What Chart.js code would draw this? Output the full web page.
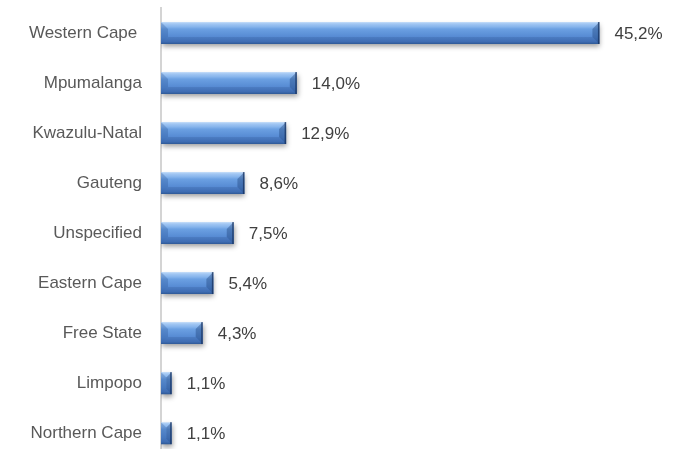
<!DOCTYPE html>
<html>
<head>
<meta charset="utf-8">
<script src="https://cdn.jsdelivr.net/npm/chart.js@4.4.1/dist/chart.umd.min.js"></script>
<style>
  html, body { margin: 0; padding: 0; background: #ffffff; overflow: hidden; }
  #wrap { width: 683px; height: 449px; overflow: hidden; }
</style>
</head>
<body>
<div id="wrap"><canvas id="chart" width="683" height="459"></canvas></div>
<script>
// Share of respondents by province (%)
const provinces = ["Western Cape ", "Mpumalanga", "Kwazulu-Natal", "Gauteng", "Unspecified",
                   "Eastern Cape", "Free State", "Limpopo", "Northern Cape"];
const shares = [45.2, 14.0, 12.9, 8.6, 7.5, 5.4, 4.3, 1.1, 1.1];
const axisMax = 50;
const BAR_FRACTION = 0.44;

const FONT = "'Liberation Sans', Arial, sans-serif";

// Vertical gradient across one bar, giving the rounded bevel look.
// The bar's band is taken from the category scale, which is laid out
// before the bar options are resolved.
function barFill(context) {
  const chart = context.chart;
  const ys = chart.scales.y;
  if (!ys || !chart.chartArea || context.dataIndex === undefined) return '#5589d2';
  const center = ys.getPixelForValue(context.dataIndex);
  const half = (ys.height / chart.data.labels.length) * BAR_FRACTION / 2;
  const g = chart.ctx.createLinearGradient(0, center - half, 0, center + half);
  g.addColorStop(0.00, '#c6def9');
  g.addColorStop(0.08, '#a2c7f3');
  g.addColorStop(0.22, '#86b4ec');
  g.addColorStop(0.32, '#6ba0e2');
  g.addColorStop(0.70, '#5589d2');
  g.addColorStop(0.90, '#4677c0');
  g.addColorStop(1.00, '#33609e');
  return g;
}

// Soft drop shadow under the bars
const barShadow = {
  id: 'barShadow',
  beforeDatasetsDraw(chart) {
    const ctx = chart.ctx;
    ctx.save();
    ctx.shadowColor = 'rgba(0,0,0,0.38)';
    ctx.shadowBlur = 5;
    ctx.shadowOffsetX = 1;
    ctx.shadowOffsetY = 3;
  },
  afterDatasetsDraw(chart) {
    chart.ctx.restore();
  }
};

// Bevel facets at the bar ends plus the value labels
const bevelAndLabels = {
  id: 'bevelAndLabels',
  afterDatasetsDraw(chart) {
    const ctx = chart.ctx;
    const meta = chart.getDatasetMeta(0);
    const data = chart.data.datasets[0].data;
    ctx.save();
    meta.data.forEach((bar, i) => {
      const p = bar.getProps(['x', 'y', 'base', 'height'], true);
      const left = Math.min(p.base, p.x), right = Math.max(p.base, p.x);
      const top = p.y - p.height / 2, bottom = p.y + p.height / 2;
      const b = Math.min(7, (right - left) / 2, p.height / 2);
      // bottom facet
      ctx.fillStyle = 'rgba(20,50,100,0.15)';
      ctx.beginPath();
      ctx.moveTo(left, bottom); ctx.lineTo(right, bottom);
      ctx.lineTo(right - b, bottom - b); ctx.lineTo(left + b, bottom - b);
      ctx.closePath(); ctx.fill();
      // left facet
      ctx.fillStyle = 'rgba(35,80,145,0.28)';
      ctx.beginPath();
      ctx.moveTo(left, top); ctx.lineTo(left + b, top + b);
      ctx.lineTo(left + b, bottom - b); ctx.lineTo(left, bottom);
      ctx.closePath(); ctx.fill();
      // right facet
      ctx.fillStyle = 'rgba(25,60,115,0.38)';
      ctx.beginPath();
      ctx.moveTo(right, top); ctx.lineTo(right - b, top + b);
      ctx.lineTo(right - b, bottom - b); ctx.lineTo(right, bottom);
      ctx.closePath(); ctx.fill();
      // dark outer edge on the right end
      ctx.fillStyle = 'rgba(20,45,90,0.7)';
      ctx.fillRect(right - 1.5, top, 1.5, bottom - top);

      // value label
      ctx.fillStyle = '#404040';
      ctx.font = '17px ' + FONT;
      ctx.textAlign = 'left';
      ctx.textBaseline = 'middle';
      ctx.fillText(data[i].toFixed(1).replace('.', ',') + '%', right + 15, p.y + 1);
    });
    ctx.restore();
  }
};

new Chart(document.getElementById('chart'), {
  type: 'bar',
  data: {
    labels: provinces,
    datasets: [{
      data: shares,
      backgroundColor: barFill,
      borderWidth: 0,
      categoryPercentage: 1,
      barPercentage: BAR_FRACTION
    }]
  },
  options: {
    indexAxis: 'y',
    responsive: false,
    animation: false,
    devicePixelRatio: 1,
    layout: { autoPadding: false, padding: { top: 8, right: 37, bottom: 0, left: 0 } },
    plugins: { legend: { display: false }, tooltip: { enabled: false } },
    scales: {
      x: {
        display: false,
        min: 0,
        max: axisMax
      },
      y: {
        // invisible tick marks keep a gap between the labels and the axis line
        grid: { display: false, drawTicks: true, tickLength: 19 },
        border: { display: true, color: '#d4d4d4', width: 2 },
        ticks: {
          color: '#595959',
          padding: 0,
          font: { family: FONT, size: 17, lineHeight: 0.1 }
        },
        afterFit(scale) { scale.width = 161; }
      }
    }
  },
  plugins: [barShadow, bevelAndLabels]
});
</script>
</body>
</html>
